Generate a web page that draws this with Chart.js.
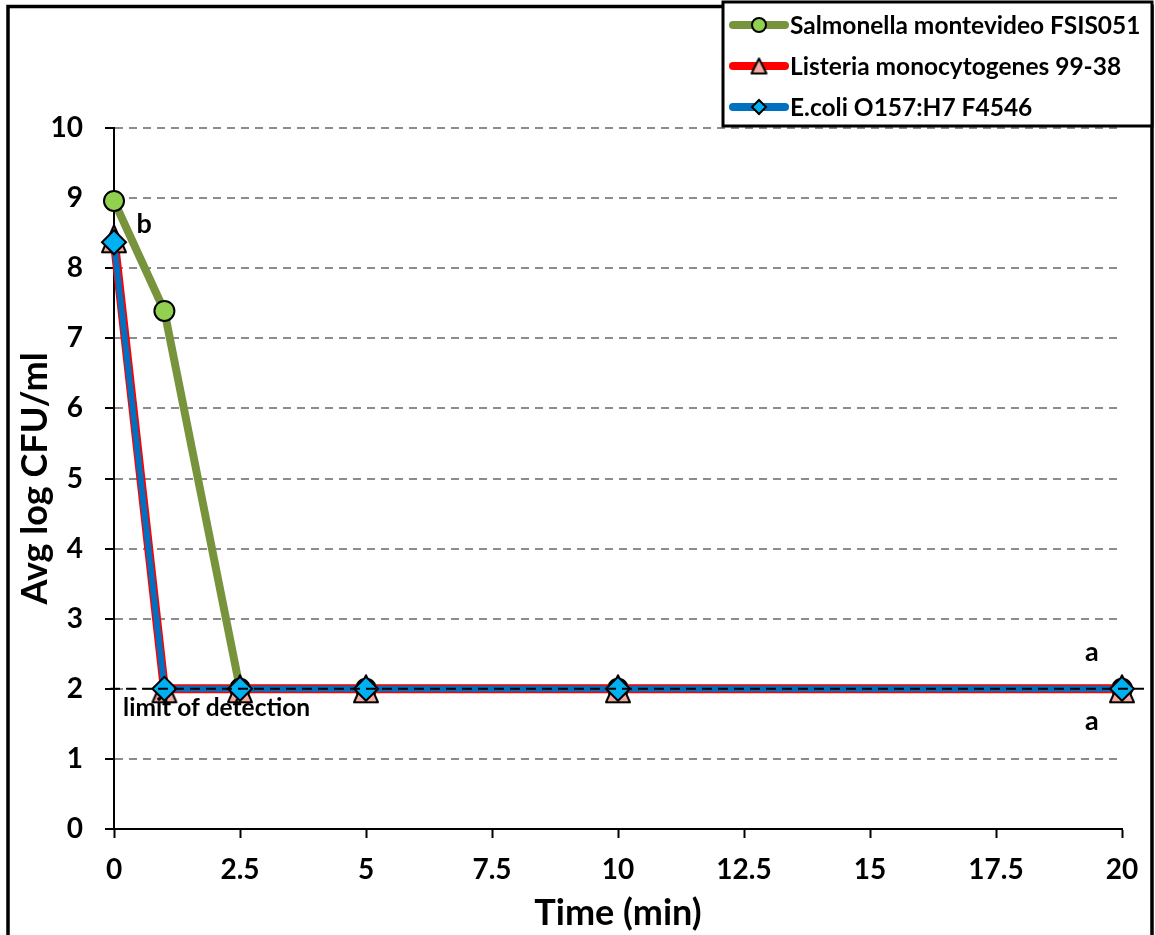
<!DOCTYPE html>
<html>
<head>
<meta charset="utf-8">
<script src="https://cdn.jsdelivr.net/npm/chart.js@4.4.1/dist/chart.umd.min.js"></script>
<style>
  html, body { margin: 0; padding: 0; background: #fff; }
  #wrap { width: 1155px; height: 935px; position: relative; }
</style>
</head>
<body>
<div id="wrap"><canvas id="chart"></canvas></div>
<script>
// values
const times      = [0, 1, 2.5, 5, 10, 20]
const salmonella = [8.96, 7.39, 2.0, 2.0, 2.0, 2.0]
const listeria   = [8.42, 2.0, 2.0, 2.0, 2.0, 2.0]
const ecoli      = [8.37, 2.0, 2.0, 2.0, 2.0, 2.0]
const seriesNames = ["Salmonella montevideo FSIS051", "Listeria monocytogenes 99-38", "E.coli O157:H7 F4546"]
const xTicks = [0, 2.5, 5, 7.5, 10, 12.5, 15, 17.5, 20]
const detectionLimit = 2
const notes = [
  { text: "b", x: 0.6,  y: 8.63 },
  { text: "a", x: 19.4, y: 2.52 },
  { text: "a", x: 19.4, y: 1.53 }
]
const lodNote = { text: "limit of detection", x: 0.18, y: 1.73 }

const FONT = "Lato, 'Open Sans', sans-serif"

const toPoints = ys => times.map((t, i) => ({ x: t, y: ys[i] }))

function triangleMarker(w, h, fill) {
  const m = 3
  const c = document.createElement("canvas")
  c.width = w + 2 * m
  c.height = h + 2 * m
  const g = c.getContext("2d")
  g.beginPath()
  g.moveTo(c.width / 2, m)
  g.lineTo(c.width - m, c.height - m)
  g.lineTo(m, c.height - m)
  g.closePath()
  g.fillStyle = fill
  g.fill()
  g.lineWidth = 2
  g.lineJoin = "round"
  g.strokeStyle = "#000"
  g.stroke()
  return c
}

const triBig   = triangleMarker(24, 27, "#F4A9A2")
const triSmall = triangleMarker(15, 15, "#F4A9A2")

const framePlugin = {
  id: "frame",
  beforeDraw(chart) {
    const ctx = chart.ctx
    ctx.save()
    ctx.fillStyle = "#fff"
    ctx.fillRect(0, 0, chart.width, chart.height)
    ctx.strokeStyle = "#000"
    ctx.lineWidth = 3.5
    ctx.strokeRect(8, 6.5, 1144, 1000)
    ctx.restore()
  }
}

const notesPlugin = {
  id: "notes",
  afterDatasetsDraw(chart) {
    const { ctx, scales: { x, y } } = chart
    const py = y.getPixelForValue(detectionLimit)
    ctx.save()
    ctx.strokeStyle = "#000"
    ctx.lineWidth = 2
    ctx.setLineDash([10, 6])
    ctx.beginPath()
    ctx.moveTo(x.left - 4, py)
    ctx.lineTo(1150, py)
    ctx.stroke()
    ctx.setLineDash([])

    ctx.fillStyle = "#000"
    ctx.textBaseline = "middle"
    ctx.textAlign = "center"
    ctx.font = `bold 27px ${FONT}`
    notes.forEach(n => ctx.fillText(n.text, x.getPixelForValue(n.x), y.getPixelForValue(n.y)))
    ctx.textAlign = "left"
    ctx.font = `bold 24.5px ${FONT}`
    ctx.fillText(lodNote.text, x.getPixelForValue(lodNote.x), y.getPixelForValue(lodNote.y))
    ctx.restore()
  }
}

const legendPlugin = {
  id: "boxLegend",
  afterDraw(chart) {
    const ctx = chart.ctx
    ctx.save()
    ctx.fillStyle = "#fff"
    ctx.fillRect(723, 2, 429, 124)
    ctx.strokeStyle = "#000"
    ctx.lineWidth = 3
    ctx.strokeRect(723, 2, 429, 124)

    ctx.font = `bold 24.5px ${FONT}`
    ctx.textBaseline = "middle"
    ctx.textAlign = "left"
    chart.data.datasets.forEach((ds, i) => {
      const cy = 25 + i * 41
      ctx.strokeStyle = ds.borderColor
      ctx.lineWidth = 8
      ctx.lineCap = "round"
      ctx.beginPath()
      ctx.moveTo(733, cy)
      ctx.lineTo(785, cy)
      ctx.stroke()

      const mx = 759
      ctx.fillStyle = ds.pointBackgroundColor
      ctx.strokeStyle = "#000"
      ctx.lineWidth = 2
      if (ds.pointStyle === "circle") {
        ctx.beginPath()
        ctx.arc(mx, cy, 7, 0, Math.PI * 2)
        ctx.fill(); ctx.stroke()
      } else if (ds.pointStyle === "rectRot") {
        ctx.beginPath()
        ctx.moveTo(mx - 7, cy); ctx.lineTo(mx, cy - 7); ctx.lineTo(mx + 7, cy); ctx.lineTo(mx, cy + 7)
        ctx.closePath()
        ctx.fill(); ctx.stroke()
      } else {
        ctx.drawImage(triSmall, mx - triSmall.width / 2, cy - triSmall.height / 2)
      }
      ctx.fillStyle = "#000"
      ctx.fillText(ds.label, 790, cy + 1)
    })
    ctx.restore()
  }
}

new Chart(document.getElementById("chart"), {
  type: "line",
  data: {
    datasets: [
      {
        label: seriesNames[0],
        data: toPoints(salmonella),
        borderColor: "#77933C",
        borderWidth: 8,
        pointStyle: "circle",
        pointRadius: 10,
        pointBackgroundColor: "#92D050",
        pointBorderColor: "#000",
        pointBorderWidth: 2,
        order: 3
      },
      {
        label: seriesNames[1],
        data: toPoints(listeria),
        borderColor: "#FF0000",
        borderWidth: 9,
        pointStyle: triBig,
        pointBackgroundColor: "#F4A9A2",
        pointBorderColor: "#000",
        order: 2
      },
      {
        label: seriesNames[2],
        data: toPoints(ecoli),
        borderColor: "#0070C0",
        borderWidth: 6,
        pointStyle: "rectRot",
        pointRadius: 12,
        pointBackgroundColor: "#00B0F0",
        pointBorderColor: "#000",
        pointBorderWidth: 2,
        order: 1
      }
    ].map(ds => ({ ...ds, clip: false, tension: 0, fill: false, borderJoinStyle: "round" }))
  },
  options: {
    responsive: true,
    maintainAspectRatio: false,
    animation: false,
    events: [],
    layout: { padding: { left: 0, top: 128, right: 33, bottom: 0 } },
    plugins: {
      legend: { display: false },
      tooltip: { enabled: false }
    },
    scales: {
      x: {
        type: "linear",
        min: 0,
        max: 20,
        afterBuildTicks: s => { s.ticks = xTicks.map(v => ({ value: v })) },
        afterFit: s => { s.height = 106 },
        border: { color: "#000", width: 2 },
        grid: {
          drawOnChartArea: false,
          drawTicks: true,
          tickLength: 9,
          tickColor: "#000",
          tickWidth: 2
        },
        ticks: {
          color: "#000",
          padding: 15,
          maxRotation: 0,
          font: { family: FONT, size: 28, weight: "bold" }
        },
        title: {
          display: true,
          text: "Time (min)",
          color: "#000",
          padding: { top: 1, bottom: 0 },
          font: { family: FONT, size: 36, weight: "bold" }
        }
      },
      y: {
        min: 0,
        max: 10,
        afterFit: s => { s.width = 114 },
        border: { color: "#000", width: 2, dash: [8, 6] },
        grid: {
          color: "#8C8C8C",
          lineWidth: 2,
          tickLength: 9,
          tickColor: "#000",
          tickWidth: 2,
          tickBorderDash: []
        },
        ticks: {
          stepSize: 1,
          color: "#000",
          padding: 22,
          font: { family: FONT, size: 28, weight: "bold" }
        },
        title: {
          display: true,
          text: "Avg log CFU/ml",
          color: "#000",
          padding: { top: 14, bottom: 0 },
          font: { family: FONT, size: 36, weight: "bold" }
        }
      }
    }
  },
  plugins: [framePlugin, notesPlugin, legendPlugin]
})
</script>
</body>
</html>
